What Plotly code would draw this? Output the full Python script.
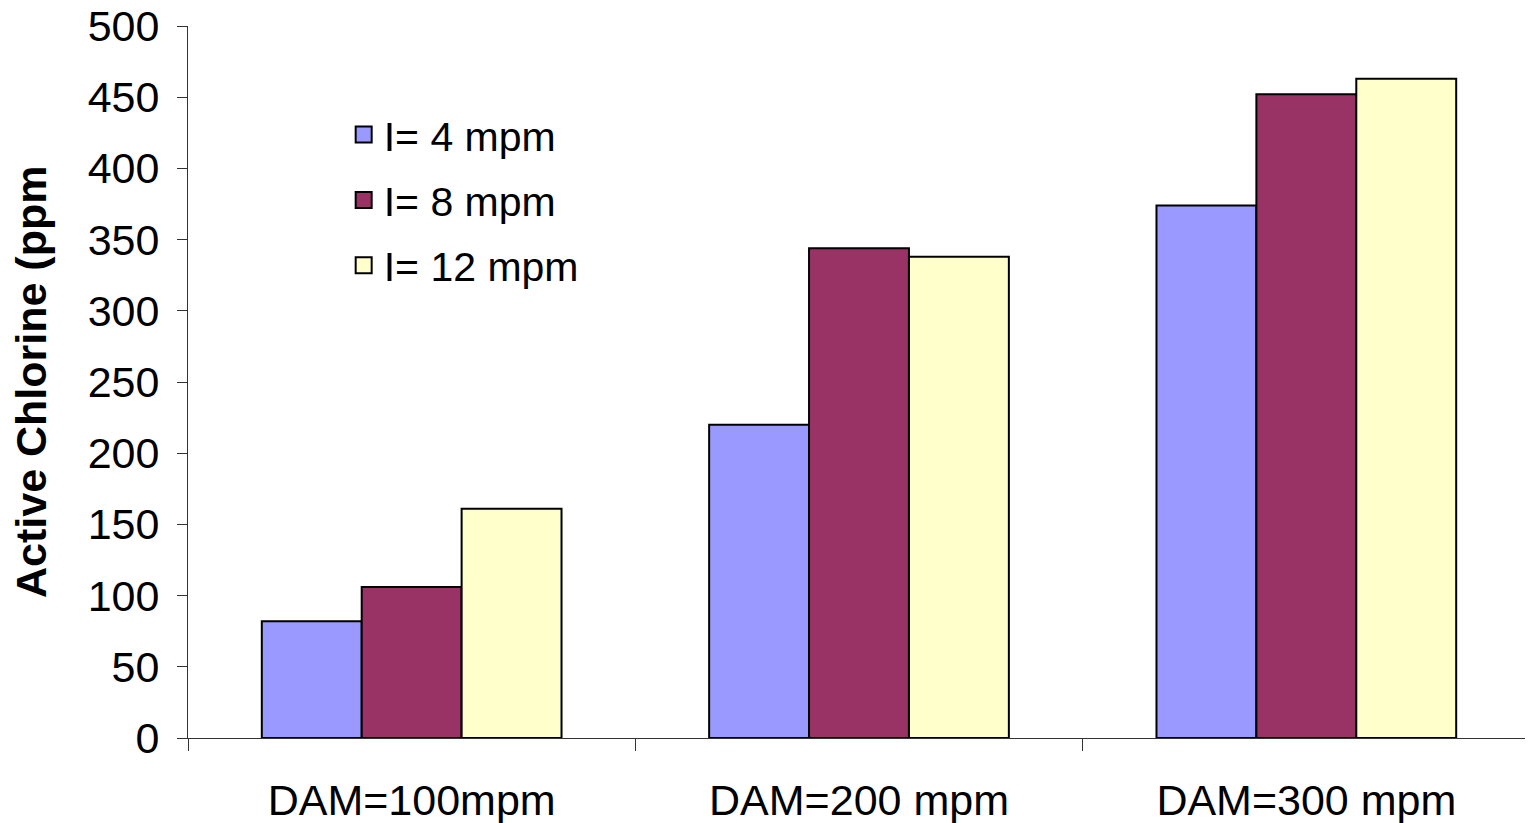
import plotly.graph_objects as go

categories = ['DAM=100mpm', 'DAM=200 mpm', 'DAM=300 mpm']
series_names = ['I= 4 mpm', 'I= 8 mpm', 'I= 12 mpm']
values_4 = [82, 220, 374]
values_8 = [106, 344, 452]
values_12 = [161, 338, 463]
colors = ['#9999FF', '#993366', '#FFFFCC']

fig = go.Figure()
for name, vals, col in zip(series_names, [values_4, values_8, values_12], colors):
    fig.add_trace(go.Bar(
        x=categories, y=vals, name=name, legendgroup=name, showlegend=False,
        marker=dict(color=col, line=dict(color='black', width=2)),
    ))
    # legend entry with bigger square swatch
    fig.add_trace(go.Scatter(
        x=[None], y=[None], mode='markers', name=name, legendgroup=name,
        marker=dict(symbol='square', size=16, color=col, line=dict(color='black', width=2)),
    ))

# page body has an 8px margin -> shift margins by 8px
fig.update_layout(
    width=1525, height=815,
    paper_bgcolor='white', plot_bgcolor='white',
    margin=dict(l=180, r=3, t=18, b=85),
    barmode='group', bargap=0.33, bargroupgap=0,
    font=dict(family='Arial, Liberation Sans, sans-serif', size=43, color='black'),
    showlegend=True,
    legend=dict(
        x=0.116, y=0.894, xanchor='left', yanchor='top',
        bgcolor='rgba(0,0,0,0)', font=dict(size=41),
        itemsizing='trace', traceorder='grouped', tracegroupgap=9,
    ),
    xaxis=dict(
        type='category', range=[-0.5, 2.5], automargin=False,
        showline=True, linecolor='#333', linewidth=1,
        ticks='outside', tickson='boundaries', ticklen=12, tickcolor='#333',
        ticklabelstandoff=24, showgrid=False,
    ),
    yaxis=dict(
        range=[0, 500], dtick=50, automargin=False, ticklabeloverflow='allow',
        showline=True, linecolor='#333', linewidth=1,
        ticks='outside', ticklen=10, tickcolor='#333',
        ticklabelstandoff=9, showgrid=False, zeroline=False,
    ),
    annotations=[dict(
        text='<b>Active Chlorine (ppm</b>', textangle=-90,
        xref='paper', yref='paper', x=-0.117, y=0.5,
        xanchor='center', yanchor='middle', showarrow=False,
        font=dict(size=43),
    )],
)

fig.write_html('out.html')
